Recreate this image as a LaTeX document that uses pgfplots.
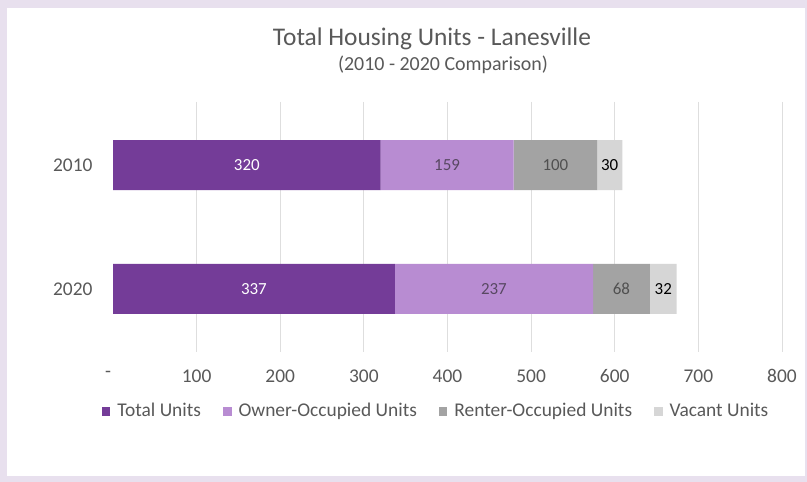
\documentclass[border=0pt]{standalone}
\usepackage{fontspec}
\setmainfont{Carlito}
\usepackage{pgfplots}
\usepackage{pgfplotstable}
\pgfplotsset{compat=1.18}

\definecolor{framec}{RGB}{232,224,238}
\definecolor{totalc}{RGB}{116,60,152}
\definecolor{ownerc}{RGB}{184,140,210}
\definecolor{renterc}{RGB}{163,163,163}
\definecolor{vacantc}{RGB}{214,214,214}
\definecolor{textc}{RGB}{89,89,89}
\definecolor{gridc}{RGB}{222,222,222}
\definecolor{ownertext}{RGB}{88,72,98}
\definecolor{rentertext}{RGB}{80,80,80}

% label positions (middle of each segment) and values
\pgfplotstableread{
x      y  lab
160    0  320
168.5  1  337
}\totallabels
\pgfplotstableread{
x      y  lab
399.5  0  159
455.5  1  237
}\ownerlabels
\pgfplotstableread{
x      y  lab
529    0  100
608    1  68
}\renterlabels
\pgfplotstableread{
x      y  lab
594    0  30
658    1  32
}\vacantlabels

\pgfplotsset{
    base/.style={
        at={(113bp,130bp)}, anchor=south west,
        scale only axis,
        width=669bp, height=250bp,
        xmin=0, xmax=800,
        ymin=-0.51, ymax=1.51,
        y dir=reverse,
    },
    seglabel/.style={
        only marks, mark=*, mark size=0pt, draw=none, fill=none,
        scatter/use mapped color={draw=none, fill=none},
        nodes near coords, point meta=explicit symbolic,
        every node near coord/.style={anchor=center, text=#1,
            font=\fontsize{17}{20}\selectfont},
    },
}

\begin{document}
\begin{tikzpicture}
% background panel
\fill[framec] (0bp,0bp) rectangle (807bp,482bp);
\fill[white] (7bp,6bp) rectangle (805bp,474bp);
\node[anchor=base, text=textc, font=\fontsize{25.5}{30}\selectfont] at (432bp,436bp) {Total Housing Units - Lanesville};
\node[anchor=base, text=textc, font=\fontsize{20}{24}\selectfont] at (443bp,411bp) {(2010 - 2020 Comparison)};

\begin{axis}[
    base,
    xbar stacked,
    bar width=50bp,
    ytick={0,1},
    yticklabels={2010,2020},
    xtick={100,200,...,800},
    xticklabels={100,200,300,400,500,600,700,800},
    extra x ticks={0},
    extra x tick labels={-},
    extra x tick style={grid=none, xticklabel style={xshift=-5bp, yshift=-2bp}},
    xmajorgrids=true,
    grid style={gridc, line width=0.8bp},
    axis line style={draw=none},
    major tick length=0pt,
    tick label style={font=\fontsize{19.5}{23}\selectfont, text=textc},
    xticklabel style={yshift=-14bp},
    yticklabel style={xshift=-17bp},
    legend columns=4,
    legend style={at={(0.483,-0.236)}, anchor=center, draw=none, fill=none,
        font=\fontsize{19.5}{23}\selectfont, text=textc,
        /tikz/every odd column/.append style={column sep=5bp},
        /tikz/every even column/.append style={column sep=20bp}},
    legend image code/.code={\fill[#1] (0bp,-4.5bp) rectangle (8.5bp,4bp);},
]
\addplot[fill=totalc, draw=none] coordinates {(320,0) (337,1)};
\addplot[fill=ownerc, draw=none] coordinates {(159,0) (237,1)};
\addplot[fill=renterc, draw=none] coordinates {(100,0) (68,1)};
\addplot[fill=vacantc, draw=none] coordinates {(30,0) (32,1)};
\legend{Total Units,Owner-Occupied Units,Renter-Occupied Units,Vacant Units}
\end{axis}

% segment labels, on an axis of the same size
\begin{axis}[base, hide axis]
\addplot[seglabel=white] table[x=x, y=y, meta=lab] {\totallabels};
\addplot[seglabel=ownertext] table[x=x, y=y, meta=lab] {\ownerlabels};
\addplot[seglabel=rentertext] table[x=x, y=y, meta=lab] {\renterlabels};
\addplot[seglabel=black] table[x=x, y=y, meta=lab] {\vacantlabels};
\end{axis}
\end{tikzpicture}
\end{document}
